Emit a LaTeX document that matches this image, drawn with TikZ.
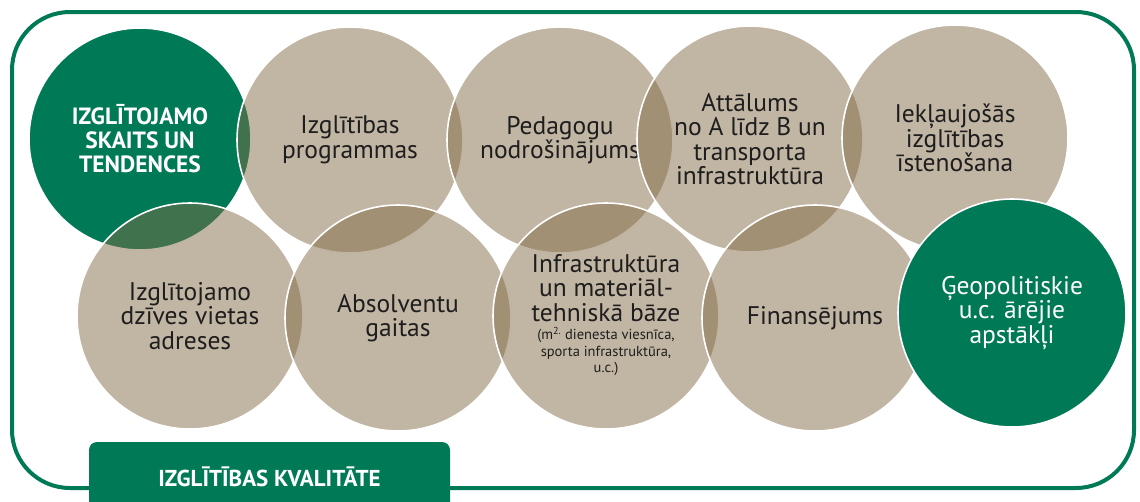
\documentclass[tikz,border=0pt]{standalone}
\usepackage{fontspec}
\setmainfont{PT Sans}
\usepackage{xcolor}
\usepackage{tikz}

\definecolor{kgreen}{RGB}{0,122,86}
\definecolor{ktan}{RGB}{131,107,71}
\definecolor{ktext}{RGB}{30,30,30}

\begin{document}
\begin{tikzpicture}[x=1pt, y=-1pt,
    bubble/.style = {circle, draw=white, line width=1.6pt, minimum size=226pt,
                     inner sep=0pt, align=center, font=\fontsize{25.5}{24.5}\selectfont},
    tanbubble/.style = {bubble, fill=ktan, fill opacity=0.5, text opacity=1, text=ktext},
    greenbubble/.style = {bubble, fill=kgreen, text=white},
    frame/.style = {draw=kgreen, line width=4pt, rounded corners=58pt},
    qualbox/.style = {rectangle, rounded corners=8pt, fill=kgreen, text=white,
                      minimum width=361pt, minimum height=70pt,
                      font=\fontsize{23}{24}\selectfont\bfseries}]

                % Canvas
                \clip (0,0) rectangle (1140,501);

                % Outer frame
                \draw[frame] (12,12) rectangle (1134,488);

                % Top row
                \node[greenbubble, minimum size=222pt, font=\fontsize{23.5}{24}\selectfont\bfseries]
                    (skaits) at (140,139) {IZGLĪTOJAMO\\SKAITS UN\\TENDENCES};
                \node[tanbubble] (programmas) at (350,140) {Izglītības\\programmas};
                \node[tanbubble] (pedagogi) at (560,140) {Pedagogu\\nodrošinājums};
                \node[tanbubble] (attalums) at (750,139) {Attālums\\no A līdz B un\\transporta\\infrastruktūra};
                \node[tanbubble] (ieklaujosa) at (955,138) {Iekļaujošās\\izglītības\\īstenošana};

                % Bottom row
                \node[tanbubble] (adreses) at (190,316) {Izglītojamo\\dzīves vietas\\adreses};
                \node[tanbubble] (absolventi) at (398,318) {Absolventu\\gaitas};
                \node[tanbubble] (baze) at (606,316) {Infrastruktūra\\un materiāl-\\tehniskā bāze\\[5pt]
                    {\fontsize{14.5}{16.5}\selectfont\begin{tabular}{@{}c@{}}(m\textsuperscript{2.} dienesta viesnīca,\\sporta infrastruktūra,\\u.c.)\end{tabular}}};
                \node[tanbubble] (finanses) at (815,318) {Finansējums};
                \node[greenbubble, minimum size=228pt] (geopolitika) at (1012,313) {Ģeopolitiskie\\u.c. ārējie\\apstākļi};

                % Label box
                \node[qualbox] (kvalitate) at (269.5,477) {IZGLĪTĪBAS KVALITĀTE};
\end{tikzpicture}
\end{document}
